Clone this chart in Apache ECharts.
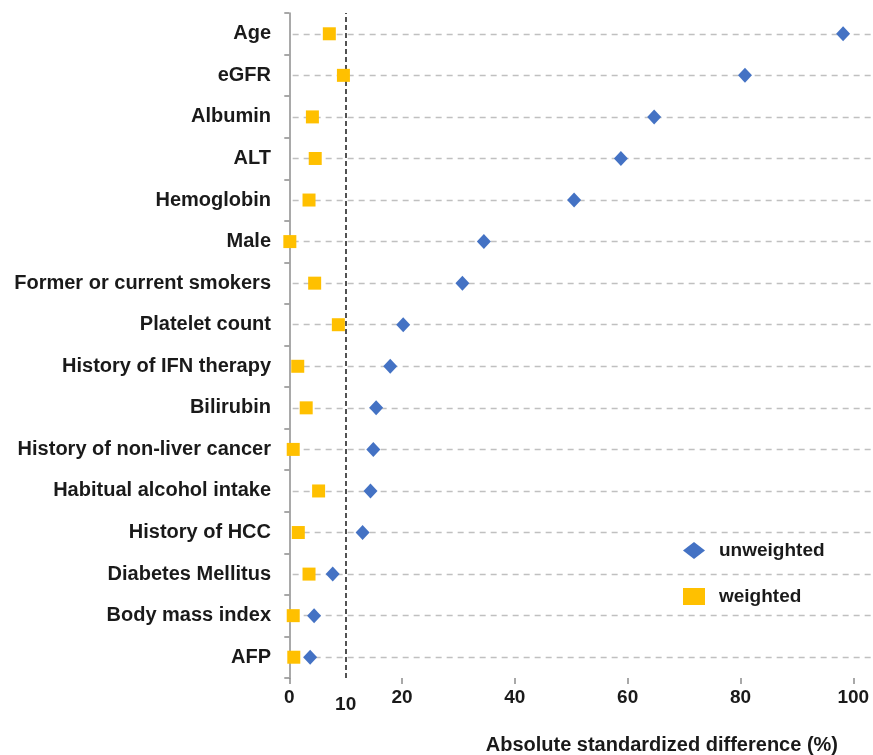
<!DOCTYPE html>
<html>
<head>
<meta charset="utf-8">
<script src="https://cdn.jsdelivr.net/npm/echarts@6/dist/echarts.min.js"></script>
<style>html,body{margin:0;padding:0;background:#fff;}#c{width:873px;height:755px;}</style>
</head>
<body>
<div id="c"></div>
<script>
const categories = ["Age","eGFR","Albumin","ALT","Hemoglobin","Male","Former or current smokers","Platelet count","History of IFN therapy","Bilirubin","History of non-liver cancer","Habitual alcohol intake","History of HCC","Diabetes Mellitus","Body mass index","AFP"];
const unweighted = [98.2,80.8,64.7,58.8,50.5,34.5,30.7,20.2,17.9,15.4,14.9,14.4,13.0,7.7,4.4,3.7];
const weighted = [7.1,9.6,4.1,4.6,3.5,0.1,4.5,8.7,1.5,3.0,0.7,5.2,1.6,3.5,0.7,0.8];
const xTickValues = [0,20,40,60,80,100];
const threshold = 10;
const xTitle = "Absolute standardized difference (%)";

const font = 'Liberation Sans, Arial, sans-serif';
const cats = categories.slice().reverse();
const uData = categories.map((c,i)=>[unweighted[i], c]);
const wData = categories.map((c,i)=>[weighted[i], c]);

const chart = echarts.init(document.getElementById('c'));
chart.setOption({
  animation:false,
  grid:{left:278,right:0,top:13,bottom:76,containLabel:false},
  legend:{
    orient:'vertical', left:678, top:536, itemGap:27, itemWidth:22, itemHeight:17,
    textStyle:{fontFamily:font,fontWeight:'bold',fontSize:19,color:'#1a1a1a',padding:[0,0,0,9]},
    data:[{name:'unweighted',icon:'diamond'},{name:'weighted',icon:'rect'}]
  },
  xAxis:{
    type:'value', min:-2, max:103.5,
    name:xTitle, nameLocation:'end',
    nameTextStyle:{fontFamily:font,fontWeight:'bold',fontSize:20,color:'#1a1a1a',align:'right',verticalAlign:'top',padding:[57,50,0,0]},
    axisLine:{onZero:false,lineStyle:{color:'#8c8c8c',width:1.5}},
    axisTick:{show:true,length:6,customValues:xTickValues,lineStyle:{color:'#8c8c8c',width:1.5}},
    axisLabel:{customValues:xTickValues,margin:10,fontFamily:font,fontWeight:'bold',fontSize:19,color:'#1a1a1a'},
    splitLine:{show:false}
  },
  yAxis:{
    type:'category', data:cats, boundaryGap:true,
    axisLine:{onZero:true,lineStyle:{color:'#8c8c8c',width:1.5}},
    axisTick:{show:true,inside:false,length:5,lineStyle:{color:'#8c8c8c',width:1.5}},
    axisLabel:{margin:7,fontFamily:font,fontWeight:'bold',fontSize:20,color:'#1a1a1a'},
    splitLine:{show:false}
  },
  series:[
    {
      name:'grid', type:'line', data:[], silent:true,
      markLine:{
        silent:true, symbol:'none', animation:false,
        lineStyle:{type:[6,5],color:'#c0c0c0',width:1.3},
        label:{show:false},
        data: cats.map(c=>[{coord:[0.6,c]},{coord:[103.5,c]}])
      }
    },
    {
      name:'thr', type:'line', data:[], silent:true,
      markLine:{
        silent:true, symbol:'none', animation:false,
        lineStyle:{type:[5,3],color:'#1a1a1a',width:1.5},
        label:{show:true,position:'start',distance:17,formatter:String(threshold),fontFamily:font,fontWeight:'bold',fontSize:19,color:'#1a1a1a'},
        data:[{xAxis:threshold}]
      }
    },
    {
      name:'unweighted', type:'scatter', data:uData, symbol:'diamond', symbolSize:[14,15],
      itemStyle:{color:'#4472C4',opacity:1}, z:5
    },
    {
      name:'weighted', type:'scatter', data:wData, symbol:'rect', symbolSize:13,
      itemStyle:{color:'#FFC000',opacity:1}, z:6
    }
  ]
});
</script>
</body>
</html>
